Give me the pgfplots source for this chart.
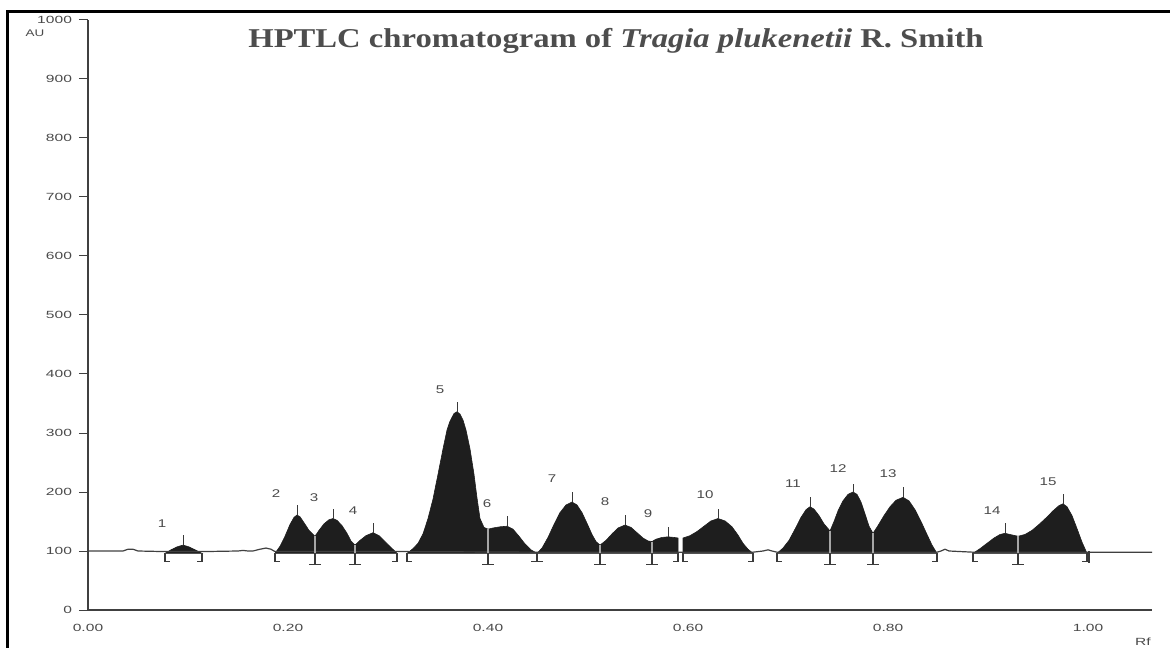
\documentclass[border=0pt]{standalone}
\usepackage{graphicx}
\usepackage{xcolor}
\usepackage{fontspec}
\setmainfont{Liberation Serif}
\newfontfamily\sansf{Liberation Sans}
\usepackage{pgfplots}
\pgfplotsset{compat=1.18}
\definecolor{axisgray}{HTML}{404040}
\definecolor{labgray}{HTML}{4A4A4A}
\definecolor{titlegray}{HTML}{4D4D4D}
\definecolor{fillc}{HTML}{1E1E1E}
\definecolor{markc}{HTML}{3A3A3A}
\newcommand{\tl}[1]{\scalebox{1.5}[1]{\sansf\fontsize{5.2}{5.5}\selectfont #1}}
\newcommand{\pl}[1]{\scalebox{1.35}[1]{\sansf\fontsize{5.6}{6}\selectfont #1}}
\begin{document}
\begin{tikzpicture}
\useasboundingbox (-44pt,-18.5pt) rectangle (541pt,305pt);
\begin{axis}[
  at={(0,0)}, anchor=south west,
  scale only axis, width=532pt, height=295pt,
  xmin=0, xmax=1.064, ymin=0, ymax=1000,
  axis x line=bottom, axis y line=left,
  axis line style={-, draw=axisgray, line width=0.55pt},
  xtick={0,0.2,0.4,0.6,0.8,1.0},
  xticklabels={\tl{0.00},\tl{0.20},\tl{0.40},\tl{0.60},\tl{0.80},\tl{1.00}},
  ytick={0,100,200,300,400,500,600,700,800,900,1000},
  yticklabels={\tl{0},\tl{100},\tl{200},\tl{300},\tl{400},\tl{500},\tl{600},\tl{700},\tl{800},\tl{900},\tl{1000}},
  tick align=outside, major tick length=4.5pt,
  tick style={draw=axisgray, line width=0.5pt},
  x tick style={draw=none},
  ticklabel style={text=labgray},
  yticklabel style={xshift=0pt},
  xticklabel style={yshift=1pt},
  clip=false,
  unbounded coords=jump,
]
% filled peak groups
\addplot[fill=fillc, draw=fillc, line width=0.3pt] coordinates {(0.077,96)(0.083,102)(0.089,107)(0.095,110)(0.101,107)(0.107,102)(0.114,96)} -- cycle;
\addplot[fill=fillc, draw=fillc, line width=0.3pt] coordinates {(0.187,96)(0.192,108)(0.197,125)(0.202,145)(0.206,157)(0.209,161)(0.212,158)(0.216,148)(0.221,135)(0.227,125)(0.231,135)(0.236,146)(0.241,153)(0.245,155)(0.249,152)(0.254,143)(0.259,130)(0.263,117)(0.267,110)(0.272,118)(0.278,126)(0.285,131)(0.291,126)(0.297,116)(0.303,106)(0.309,96)} -- cycle;
\addplot[fill=fillc, draw=fillc, line width=0.3pt] coordinates {(0.319,96)(0.325,104)(0.330,113)(0.335,129)(0.340,155)(0.345,188)(0.350,230)(0.355,273)(0.359,305)(0.362,320)(0.366,333)(0.369,336)(0.372,332)(0.375,322)(0.378,305)(0.382,273)(0.386,230)(0.389,190)(0.392,155)(0.396,140)(0.400,137)(0.405,139)(0.412,141)(0.419,142)(0.425,137)(0.431,125)(0.437,112)(0.443,102)(0.449,96)} -- cycle;
\addplot[fill=fillc, draw=fillc, line width=0.3pt] coordinates {(0.449,96)(0.454,105)(0.460,123)(0.466,145)(0.472,165)(0.478,178)(0.484,183)(0.489,178)(0.494,165)(0.499,147)(0.504,128)(0.508,116)(0.512,110)(0.518,118)(0.524,129)(0.530,139)(0.537,144)(0.543,140)(0.549,131)(0.555,122)(0.560,117)(0.564,116)(0.568,120)(0.574,123)(0.580,124)(0.586,123)(0.590,122)(0.590,96)} -- cycle;
\addplot[fill=fillc, draw=fillc, line width=0.3pt] coordinates {(0.595,96)(0.595,122)(0.602,126)(0.609,133)(0.616,142)(0.623,151)(0.630,155)(0.637,151)(0.644,141)(0.650,127)(0.655,113)(0.660,103)(0.665,96)} -- cycle;
\addplot[fill=fillc, draw=fillc, line width=0.3pt] coordinates {(0.689,96)(0.695,105)(0.701,118)(0.707,137)(0.713,157)(0.718,170)(0.722,175)(0.726,171)(0.731,160)(0.736,146)(0.742,134)(0.746,150)(0.750,168)(0.755,185)(0.760,196)(0.765,200)(0.769,196)(0.773,183)(0.777,163)(0.781,142)(0.785,130)(0.790,143)(0.796,160)(0.802,175)(0.808,186)(0.815,191)(0.821,185)(0.827,170)(0.833,150)(0.839,128)(0.844,110)(0.849,96)} -- cycle;
\addplot[fill=fillc, draw=fillc, line width=0.3pt] coordinates {(0.885,96)(0.892,104)(0.899,113)(0.906,122)(0.912,128)(0.917,130)(0.922,128)(0.930,125)(0.937,128)(0.944,135)(0.951,145)(0.958,156)(0.965,168)(0.971,177)(0.975,180)(0.979,175)(0.984,160)(0.989,138)(0.994,115)(0.999,96)} -- cycle;
% baseline trace with small bumps
\addplot[draw=axisgray, line width=0.6pt] coordinates {(0,100)(0.035,100)(0.040,103)(0.045,103)(0.050,100)(0.077,99)(0.114,99)(0.150,100)(0.155,101)(0.160,100)(0.165,100)(0.172,103)(0.178,105)(0.183,103)(0.187,99)(0.309,99)(0.319,99)(0.449,98)(0.590,98)(0.595,98)(0.665,98)(0.675,100)(0.680,102)(0.684,100)(0.689,98)(0.849,98)(0.853,100)(0.857,103)(0.861,100)(0.885,98)(0.999,98)(1.064,98)};
% split lines inside the fill
\addplot[draw=gray!70, line width=0.7pt] coordinates {(0.227,125)(0.227,96)(0.227,nan)(0.267,110)(0.267,96)(0.267,nan)(0.400,137)(0.400,96)(0.400,nan)(0.512,110)(0.512,96)(0.512,nan)(0.564,116)(0.564,96)(0.564,nan)(0.742,134)(0.742,96)(0.742,nan)(0.785,130)(0.785,96)(0.785,nan)(0.930,125)(0.930,96)};
% split markers below baseline
\addplot[draw=markc, line width=0.6pt] coordinates {
(0.227,96)(0.227,77)(0.227,nan)(0.221,77)(0.233,77)(0.233,nan)
(0.267,96)(0.267,77)(0.267,nan)(0.261,77)(0.273,77)(0.273,nan)
(0.400,96)(0.400,77)(0.400,nan)(0.394,77)(0.406,77)(0.406,nan)
(0.449,96)(0.449,82)(0.449,nan)(0.443,82)(0.455,82)(0.455,nan)
(0.512,96)(0.512,77)(0.512,nan)(0.506,77)(0.518,77)(0.518,nan)
(0.564,96)(0.564,77)(0.564,nan)(0.558,77)(0.570,77)(0.570,nan)
(0.742,96)(0.742,77)(0.742,nan)(0.736,77)(0.748,77)(0.748,nan)
(0.785,96)(0.785,77)(0.785,nan)(0.779,77)(0.791,77)(0.791,nan)
(0.930,96)(0.930,77)(0.930,nan)(0.924,77)(0.936,77)};
% start / end brackets
\addplot[draw=markc, line width=0.6pt] coordinates {
(0.077,96)(0.077,82)(0.082,82)(0.082,nan)
(0.187,96)(0.187,82)(0.192,82)(0.192,nan)
(0.319,96)(0.319,82)(0.324,82)(0.324,nan)
(0.595,96)(0.595,82)(0.600,82)(0.600,nan)
(0.689,96)(0.689,82)(0.694,82)(0.694,nan)
(0.885,96)(0.885,82)(0.890,82)(0.890,nan)
(0.114,96)(0.114,82)(0.109,82)(0.109,nan)
(0.309,96)(0.309,82)(0.304,82)(0.304,nan)
(0.590,96)(0.590,82)(0.585,82)(0.585,nan)
(0.665,96)(0.665,82)(0.660,82)(0.660,nan)
(0.849,96)(0.849,82)(0.844,82)(0.844,nan)
(0.999,96)(0.999,82)(0.994,82)(0.994,nan)
(1.001,100)(1.001,80)};
% apex ticks
\addplot[draw=markc, line width=0.5pt] coordinates {
(0.095,110)(0.095,127)(0.095,nan)(0.209,161)(0.209,178)(0.209,nan)
(0.245,155)(0.245,172)(0.245,nan)(0.285,131)(0.285,148)(0.285,nan)
(0.369,336)(0.369,353)(0.369,nan)(0.419,142)(0.419,159)(0.419,nan)
(0.484,183)(0.484,200)(0.484,nan)(0.537,144)(0.537,161)(0.537,nan)
(0.580,124)(0.580,141)(0.580,nan)(0.630,155)(0.630,172)(0.630,nan)
(0.722,175)(0.722,192)(0.722,nan)(0.765,200)(0.765,214)(0.765,nan)
(0.815,191)(0.815,208)(0.815,nan)(0.917,130)(0.917,147)(0.917,nan)
(0.975,180)(0.975,197)};
% peak numbers
\foreach \x/\y/\t in {0.074/147/1,0.188/198/2,0.226/191/3,0.265/168/4,0.352/374/5,0.399/180/6,0.464/222/7,0.517/183/8,0.560/163/9,0.617/195/10,0.705/214/11,0.750/240/12,0.800/231/13,0.904/168/14,0.960/217/15}{
  \edef\tmp{\noexpand\node[text=labgray, inner sep=0pt] at (axis cs:\x,\y) {\noexpand\pl{\t}};}\tmp
}
\end{axis}
% frame of the scanned figure
\draw[black, line width=1.5pt] (-40pt,-30pt) -- (-40pt,299pt) -- (600pt,299pt);
% title
\node[anchor=base, text=titlegray, inner sep=0pt] at (264pt,281.2pt)
  {\scalebox{1.2}[1]{\fontsize{13.6}{15}\selectfont\bfseries HPTLC chromatogram of \textit{Tragia plukenetii} R. Smith}};
\node[text=labgray, inner sep=0pt] at (-26.5pt,288.5pt) {\scalebox{1.4}[1]{\sansf\fontsize{4.8}{5}\selectfont AU}};
\node[anchor=south, text=labgray, inner sep=0pt] at (527.5pt,-18pt) {\tl{Rf}};
\end{tikzpicture}
\end{document}
